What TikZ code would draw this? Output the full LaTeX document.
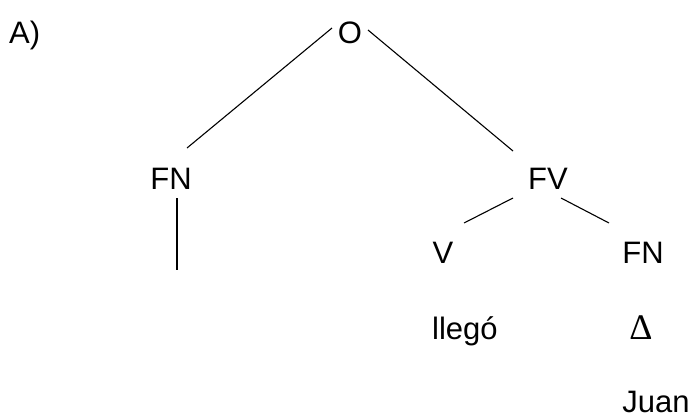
\documentclass[tikz,border=0pt]{standalone}
\usepackage{fontspec}
\setmainfont{Liberation Sans}
\newfontfamily\deltafont{Liberation Serif}
\begin{document}
\begin{tikzpicture}[x=1pt,y=1pt,
  lbl/.style={inner sep=0pt, anchor=base, font=\fontsize{31}{36}\selectfont},
  branch/.style={line width=1.1pt, black}]
\useasboundingbox (0,0) rectangle (691,-416);
\node[lbl, anchor=base west] (A) at (9,-43) {A)};
\node[lbl] (O) at (350,-43) {O};
\node[lbl] (FNl) at (171,-189) {FN};
\node[lbl] (FV) at (548,-189) {FV};
\node[lbl] (V) at (443,-263) {V};
\node[lbl] (FNr) at (643,-263) {FN};
\node[lbl, anchor=base west] (lleg) at (432,-339) {llegó};
\node[lbl, font=\deltafont\fontsize{36}{40}\selectfont] (D) at (641,-339) {Δ};
\node[lbl] (Juan) at (656,-412) {Juan};
\coordinate (FNlend) at ([xshift=6pt,yshift=-81pt]FNl.base);
\draw[branch] ([xshift=-18pt,yshift=15pt]O.base) -- ([xshift=16pt,yshift=41pt]FNl.base);
\draw[branch] ([xshift=18pt,yshift=13pt]O.base) -- ([xshift=-35pt,yshift=38pt]FV.base);
\draw[branch] ([xshift=6pt,yshift=-9pt]FNl.base) -- (FNlend);
\draw[branch] ([xshift=-35pt,yshift=-9pt]FV.base) -- ([xshift=21pt,yshift=40pt]V.base);
\draw[branch] ([xshift=13pt,yshift=-9pt]FV.base) -- ([xshift=-34pt,yshift=40pt]FNr.base);
\end{tikzpicture}
\end{document}
